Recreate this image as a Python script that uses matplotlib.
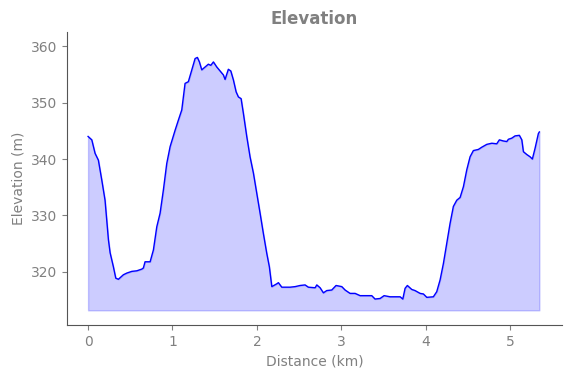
import matplotlib
matplotlib.use("Agg")
import matplotlib.pyplot as plt
import numpy as np

distance_km = [
    0.00, 0.044, 0.083, 0.122, 0.162, 0.201, 0.241, 0.261, 0.300, 0.328,
    0.359, 0.418, 0.459, 0.518, 0.577, 0.636, 0.655, 0.675, 0.735, 0.774,
    0.814, 0.853, 0.892, 0.932, 0.972, 1.031, 1.070, 1.110, 1.149, 1.188,
    1.229, 1.268, 1.295, 1.319, 1.347, 1.386, 1.425, 1.454, 1.485, 1.525,
    1.564, 1.603, 1.623, 1.662, 1.691, 1.722, 1.754, 1.781, 1.813, 1.840,
    1.880, 1.919, 1.959, 1.999, 2.038, 2.077, 2.117, 2.148, 2.177, 2.236,
    2.255, 2.295, 2.393, 2.453, 2.512, 2.571, 2.610, 2.690, 2.710, 2.749,
    2.788, 2.828, 2.887, 2.938, 3.006, 3.045, 3.104, 3.164, 3.223, 3.302,
    3.361, 3.400, 3.460, 3.507, 3.578, 3.697, 3.729, 3.756, 3.783, 3.835,
    3.874, 3.934, 3.973, 4.013, 4.091, 4.131, 4.171, 4.210, 4.250, 4.289,
    4.328, 4.368, 4.408, 4.447, 4.487, 4.526, 4.565, 4.624, 4.665, 4.724,
    4.783, 4.842, 4.873, 4.921, 4.961, 4.980, 5.020, 5.059, 5.110, 5.139,
    5.158, 5.198, 5.237, 5.264, 5.296, 5.335, 5.347,
]

elevation_m = [
    344.0, 343.4, 341.0, 339.8, 336.3, 332.7, 325.7, 323.4, 320.9, 318.9,
    318.7, 319.5, 319.8, 320.1, 320.2, 320.5, 320.7, 321.8, 321.8, 323.9,
    328.0, 330.4, 334.5, 339.2, 342.2, 345.1, 346.9, 348.7, 353.4, 353.7,
    355.8, 357.8, 358.0, 357.2, 355.8, 356.3, 356.8, 356.6, 357.2, 356.3,
    355.6, 354.9, 354.1, 355.9, 355.6, 354.0, 351.9, 351.0, 350.7, 348.1,
    344.0, 340.4, 337.5, 333.9, 330.4, 326.8, 323.3, 320.9, 317.4, 317.9,
    318.1, 317.3, 317.3, 317.4, 317.6, 317.7, 317.3, 317.2, 317.7, 317.2,
    316.3, 316.7, 316.8, 317.6, 317.4, 316.8, 316.2, 316.2, 315.8, 315.8,
    315.8, 315.2, 315.3, 315.8, 315.6, 315.6, 315.2, 317.1, 317.6, 316.9,
    316.7, 316.2, 316.1, 315.5, 315.6, 316.5, 318.6, 321.5, 325.1, 328.6,
    331.6, 332.7, 333.2, 335.1, 338.1, 340.4, 341.5, 341.7, 342.1, 342.6,
    342.8, 342.7, 343.4, 343.2, 343.1, 343.5, 343.7, 344.1, 344.2, 343.4,
    341.3, 340.8, 340.4, 340.0, 341.9, 344.5, 344.8,
]

fill_base = 313.2

fig = plt.figure(figsize=(5.71, 3.78), dpi=100)
ax = fig.add_axes([0.1173, 0.1402, 0.8669, 0.7751])

ax.plot(distance_km, elevation_m, color="blue", linewidth=1.0)
ax.fill_between(distance_km, elevation_m, fill_base, color="blue", alpha=0.2)

ax.set_ylim(310.6, 362.5)
ax.set_xlim(-0.25, 5.615)
ax.set_xticks([0, 1, 2, 3, 4, 5])
ax.set_yticks([320, 330, 340, 350, 360])

grey = "#808080"
ax.set_title("Elevation", color=grey, fontweight="bold", fontsize=12)
ax.set_xlabel("Distance (km)", color=grey, fontsize=10)
ax.set_ylabel("Elevation (m)", color=grey, fontsize=10)
ax.tick_params(colors=grey, labelsize=10)
for s in ["top", "right"]:
    ax.spines[s].set_visible(False)
for s in ["left", "bottom"]:
    ax.spines[s].set_color("#555555")

fig.savefig("out.png", dpi=100)
